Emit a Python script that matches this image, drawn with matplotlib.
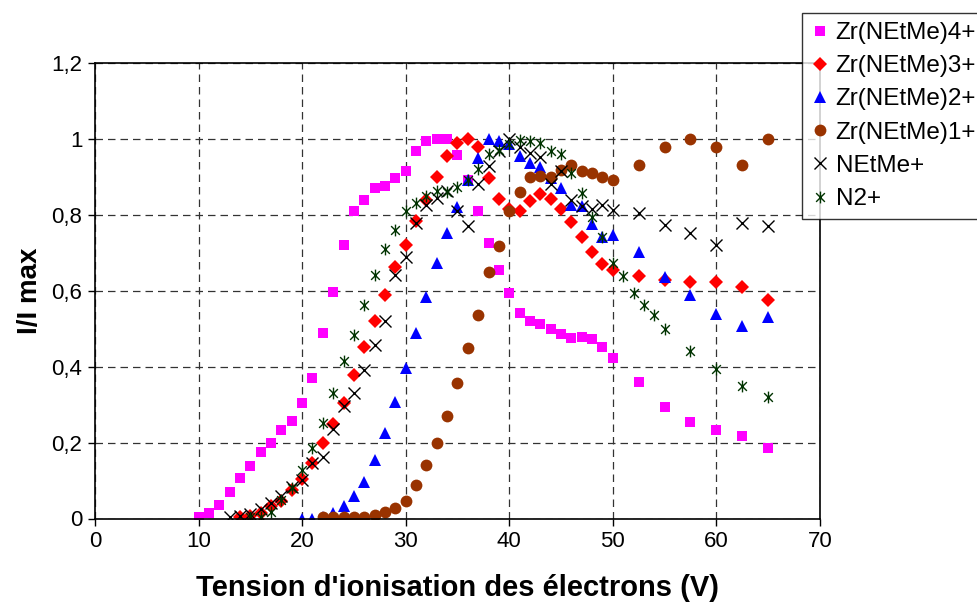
import numpy as np
import matplotlib
matplotlib.use("Agg")
import matplotlib.pyplot as plt
from matplotlib.path import Path
from matplotlib.ticker import FuncFormatter

plt.rcParams["font.family"] = ["Liberation Sans", "DejaVu Sans"]

# ---------------------------------
# Data
# ---------------------------------
tail = [52.5, 55, 57.5, 60, 62.5, 65]

x_zr4 = list(range(10, 51)) + tail
y_zr4 = [0.005, 0.014, 0.035, 0.070, 0.108, 0.139, 0.174, 0.200, 0.232, 0.256,
         0.304, 0.370, 0.488, 0.598, 0.720, 0.810, 0.840, 0.872, 0.877, 0.897,
         0.916, 0.968, 0.995, 1.000, 1.000, 0.957, 0.893, 0.810, 0.725, 0.656,
         0.595, 0.542, 0.520, 0.512, 0.500, 0.486, 0.475, 0.477, 0.472, 0.453,
         0.424, 0.359, 0.295, 0.253, 0.233, 0.218, 0.185]

x_zr3 = list(range(14, 51)) + tail
y_zr3 = [0.003, 0.007, 0.014, 0.032, 0.047, 0.076, 0.104, 0.146, 0.199, 0.249,
         0.305, 0.378, 0.451, 0.520, 0.589, 0.662, 0.720, 0.785, 0.840, 0.900,
         0.956, 0.988, 1.000, 0.980, 0.896, 0.843, 0.815, 0.810, 0.836, 0.856,
         0.843, 0.815, 0.781, 0.742, 0.701, 0.670, 0.654, 0.640, 0.628, 0.624,
         0.624, 0.610, 0.576]

x_zr2 = list(range(20, 51)) + tail
y_zr2 = [0.000, 0.000, 0.004, 0.014, 0.032, 0.058, 0.097, 0.155, 0.225, 0.308,
         0.396, 0.488, 0.583, 0.672, 0.753, 0.820, 0.891, 0.951, 0.999, 0.995,
         0.986, 0.954, 0.937, 0.925, 0.896, 0.872, 0.825, 0.823, 0.776, 0.742,
         0.747, 0.703, 0.637, 0.589, 0.539, 0.507, 0.532]

x_zr1 = list(range(22, 51)) + tail
y_zr1 = [0.004, 0.004, 0.004, 0.005, 0.005, 0.010, 0.018, 0.027, 0.045, 0.089,
         0.142, 0.200, 0.269, 0.358, 0.450, 0.537, 0.649, 0.718, 0.810, 0.861,
         0.900, 0.903, 0.900, 0.918, 0.930, 0.915, 0.910, 0.900, 0.893, 0.932,
         0.980, 1.000, 0.980, 0.932, 1.000]

x_netme = list(range(13, 51)) + tail
y_netme = [0.004, 0.006, 0.012, 0.025, 0.040, 0.058, 0.083, 0.102, 0.146, 0.163,
           0.236, 0.297, 0.331, 0.392, 0.456, 0.521, 0.642, 0.688, 0.778, 0.827,
           0.845, 0.862, 0.810, 0.770, 0.880, 0.928, 0.968, 0.999, 0.980, 0.963,
           0.953, 0.882, 0.915, 0.840, 0.823, 0.816, 0.827, 0.814, 0.805, 0.772,
           0.752, 0.720, 0.779, 0.770]

x_n2 = list(range(15, 56)) + [57.5, 60, 62.5, 65]
y_n2 = [0.005, 0.005, 0.016, 0.050, 0.080, 0.128, 0.185, 0.251, 0.330, 0.416,
        0.483, 0.562, 0.641, 0.711, 0.761, 0.810, 0.831, 0.850, 0.863, 0.860,
        0.874, 0.893, 0.922, 0.960, 0.970, 0.986, 0.998, 0.994, 0.990, 0.968,
        0.960, 0.910, 0.857, 0.794, 0.742, 0.672, 0.639, 0.593, 0.562, 0.536,
        0.498, 0.441, 0.394, 0.348, 0.319]

# Excel-style star: an X with a vertical bar
star = Path([(-1, -1), (1, 1), (-1, 1), (1, -1), (0, -1.35), (0, 1.35)],
            [Path.MOVETO, Path.LINETO] * 3)

fig = plt.figure(figsize=(9.78, 6.10), dpi=100)
ax = fig.add_axes([0.0971, 0.150, 0.7413, 0.7467])

ax.plot(x_zr4, y_zr4, "s", color="#FF00FF", ms=7.5, mew=0, label="Zr(NEtMe)4+")
ax.plot(x_zr3, y_zr3, "D", color="#FF0000", ms=7, mew=0, label="Zr(NEtMe)3+")
ax.plot(x_zr2, y_zr2, "^", color="#0000FF", ms=8.5, mew=0, label="Zr(NEtMe)2+")
ax.plot(x_zr1, y_zr1, "o", color="#993300", ms=8.5, mew=0, label="Zr(NEtMe)1+")
ax.plot(x_netme, y_netme, "x", color="black", ms=8.5, mew=1, label="NEtMe+")
ax.plot(x_n2, y_n2, marker=star, ls="none", color="#003300", ms=8.5, mew=1,
        label="N2+")

ax.set_xlim(0, 70)
ax.set_ylim(0, 1.2)
ax.set_xticks(np.arange(0, 71, 10))
ax.set_yticks(np.arange(0, 1.21, 0.2))
ax.yaxis.set_major_formatter(FuncFormatter(lambda v, p: f"{v:g}".replace(".", ",")))
ax.tick_params(direction="out", length=5, width=1, labelsize=16, pad=4)
ax.grid(True, ls=(0, (6, 4)), color="#333333", lw=0.9)
for s in ax.spines.values():
    s.set_linewidth(1.2)

ax.set_xlabel("Tension d'ionisation des électrons (V)", fontsize=21,
              fontweight="bold", labelpad=16)
ax.set_ylabel("I/I max", fontsize=20, fontweight="bold", labelpad=6)

leg = fig.legend(loc="upper left", bbox_to_anchor=(0.82, 0.979), fontsize=17.5,
                 frameon=True, fancybox=False, edgecolor="black",
                 labelspacing=0.46, handlelength=0.7, handletextpad=0.3,
                 borderaxespad=0, borderpad=0.38)
leg.get_frame().set_linewidth(1.0)

plt.savefig("out.png", dpi=100)
